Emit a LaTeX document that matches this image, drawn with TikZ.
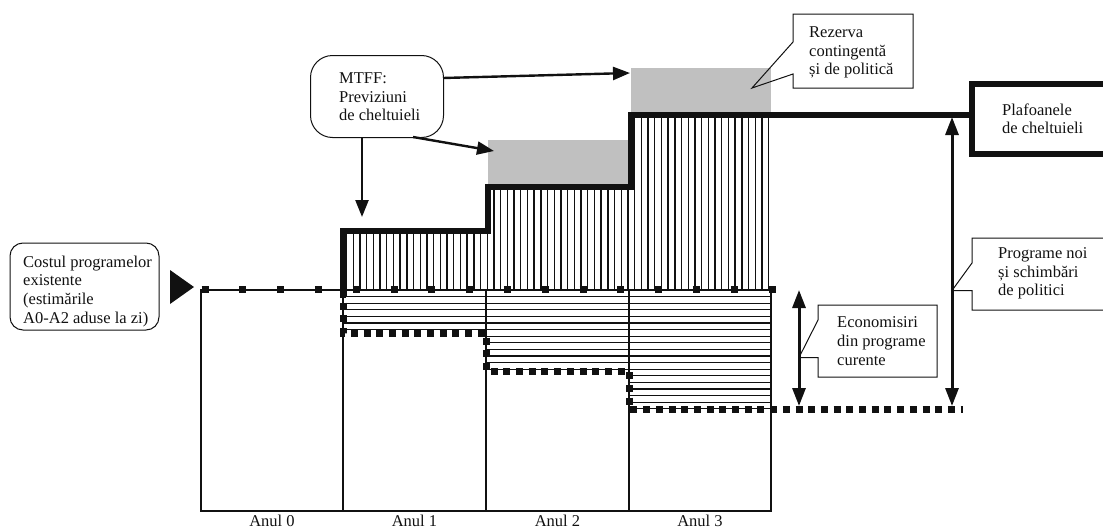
\documentclass[tikz,border=0pt]{standalone}
\usepackage{fontspec}
\setmainfont{Liberation Serif}
\usetikzlibrary{arrows.meta,calc}
% stacked left-aligned lines whose baseline is the first line's baseline
\newcommand\stk[1]{\vtop{\baselineskip=18.7pt\lineskiplimit=-20pt\lineskip=0pt\halign{##\hfil\cr#1\crcr}}}
\definecolor{resgray}{HTML}{C0C0C0}
\definecolor{ink}{HTML}{111111}
\begin{document}
\begin{tikzpicture}[x=1pt,y=-1pt,
  lbl/.style={inner sep=0pt, font=\fontsize{16.5}{18.7}\selectfont, text=ink, anchor=base west},
  yearlbl/.style={inner sep=0pt, font=\fontsize{16.5}{18.7}\selectfont, text=ink, anchor=base},
  frame/.style={line width=1.2pt, draw=ink},
  outline/.style={line width=1pt, draw=ink},
  bigarrow/.style={line width=2.4pt, draw=ink, -{Triangle[length=17pt,width=13pt]}},
  dblarrow/.style={line width=3pt, draw=ink, {Triangle[length=18pt,width=13pt]}-{Triangle[length=18pt,width=13pt]}},
  sparsedots/.style={line width=7pt, draw=ink, dash pattern=on 7pt off 30.8pt},
  densedots/.style={line width=7pt, draw=ink, dash pattern=on 7pt off 5.7pt},
  ceiling/.style={line width=5.5pt, draw=ink, miter limit=10},
  ]
\useasboundingbox (0,0) rectangle (1103,530);
\clip (0,0) rectangle (1103,530);

% contingency reserves above the ceilings of years 2 and 3
\node[fill=resgray, inner sep=0pt, minimum width=141pt, minimum height=47pt, anchor=north west] (res2) at (488,140) {};
\node[fill=resgray, inner sep=0pt, minimum width=140pt, minimum height=47pt, anchor=north west] (res3) at (631,68) {};

% vertical hatching: new programmes and policy changes
\begin{scope}
  \clip (343,290) -- (343,231) -- (488,231) -- (488,187) -- (631,187) -- (631,115) -- (771,115) -- (771,290) -- cycle;
  \foreach \i in {0,...,63}
    \draw[line width=1.4pt, ink] ({346.5+6.7*\i},100) -- ({346.5+6.7*\i},290);
\end{scope}

% horizontal hatching: savings from current programmes
\begin{scope}
  \clip (343,290) -- (771,290) -- (771,409) -- (629,409) -- (629,371) -- (486,371) -- (486,333) -- (343,333) -- cycle;
  \foreach \i in {1,...,18}
    \draw[line width=1.1pt, ink] (343,{290+6.6*\i}) -- (771,{290+6.6*\i});
\end{scope}

% year columns
\draw[frame] (201,290) rectangle (771,511);
\foreach \x in {343,486,629}
  \draw[frame] (\x,290) -- (\x,511);
\foreach \x/\n in {272/0,414.5/1,557.5/2,700/3}
  \node[yearlbl] (anul\n) at (\x,526) {Anul \n};

% cost of existing programmes
\draw[sparsedots] (201.5,289) -- (776,289);
% declining baseline after savings
\draw[densedots] (343,290) -- (343,333) -- (486,333) -- (486,371) -- (629,371) -- (629,409) -- (963,409);

% expenditure ceilings
\draw[ceiling] (343,298) -- (343,231) -- (488,231) -- (488,187) -- (631,187) -- (631,115) -- (972,115);
\draw[line width=6pt, draw=ink] (1130,84) -- (972,84) -- (972,154) -- (1130,154);
\node[lbl] (plaf) at (1002,115) {\stk{Plafoanele\cr de cheltuieli}};

% existing programmes label
\draw[outline, rounded corners=13pt] (10,243) rectangle (159,330);
\node[lbl] (costul) at (23,267) {\stk{Costul programelor\cr existente\cr (estimările\cr A0-A2 aduse la zi)}};
\fill[ink] (170,270) -- (194,287) -- (170,304) -- cycle;

% MTFF forecasts
\node[draw=ink, line width=1pt, rounded corners=22pt, inner sep=0pt, minimum width=133pt, minimum height=82pt, anchor=north west] (mtffbox) at (310,55) {};
\node[lbl] (mtff) at (339,83.3) {\stk{MTFF:\cr Previziuni\cr de cheltuieli}};
\coordinate (m1) at (362,138);
\coordinate (m2) at (413,137);
\coordinate (m3) at (443,78);
\coordinate (t1) at (362,217);
\coordinate (t2) at (494,151);
\coordinate (t3) at (630,73);
\draw[bigarrow] (m1) -- (t1);
\draw[bigarrow] (m2) -- (t2);
\draw[bigarrow] (m3) -- (t3);

% reserve callout
\draw[outline] (913,14) -- (793,14) -- (793,42) -- (752,88) -- (793,74) -- (793,88) -- (913,88) -- cycle;
\node[lbl] (rez) at (809,37.3) {\stk{Rezerva\cr contingentă\cr și de politică}};

% savings range
\coordinate (s1) at (799,290);
\coordinate (s2) at (799,406);
\draw[dblarrow] (s1) -- (s2);
\draw[outline] (937,305) -- (818,305) -- (818,320) -- (799,357.5) -- (818,357.5) -- (818,377) -- (937,377) -- cycle;
\node[lbl] (econ) at (837,327.7) {\stk{Economisiri\cr din programe\cr curente}};

% new programmes range
\coordinate (p1) at (952,117);
\coordinate (p2) at (952,406);
\draw[dblarrow] (p1) -- (p2);
\draw[outline] (1130,238) -- (972,238) -- (972,263) -- (952,290.5) -- (972,290.5) -- (972,310) -- (1130,310);
\node[lbl] (noi) at (998,258.3) {\stk{Programe noi\cr și schimbări\cr de politici}};
\end{tikzpicture}
\end{document}
